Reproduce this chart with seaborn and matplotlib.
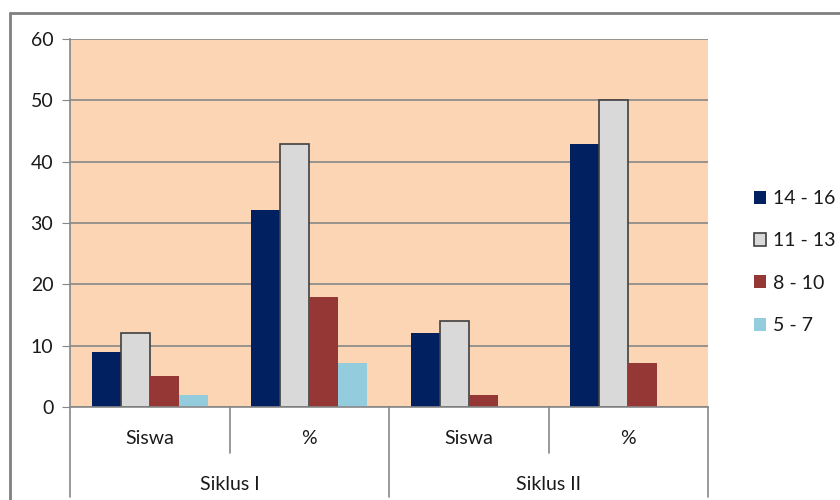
import pandas as pd
import matplotlib.pyplot as plt
import seaborn as sns
from matplotlib.lines import Line2D
from matplotlib.transforms import blended_transform_factory

# Data
cycles = ["Siklus I", "Siklus II"]
measures = ["Siswa", "%"]
series = ["14 - 16", "11 - 13", "8 - 10", "5 - 7"]
siklus1_siswa = [9, 12, 5, 2]
siklus1_pct = [32.1, 42.9, 17.9, 7.1]
siklus2_siswa = [12, 14, 2, 0]
siklus2_pct = [42.9, 50, 7.1, 0]

colors = ["#002060", "#D9D9D9", "#953735", "#93CDDD"]

rows = []
for cyc, vals_by_measure in zip(cycles, [[siklus1_siswa, siklus1_pct], [siklus2_siswa, siklus2_pct]]):
    for meas, vals in zip(measures, vals_by_measure):
        for s, v in zip(series, vals):
            rows.append({"cat": f"{cyc}|{meas}", "Kelompok": s, "Nilai": v})
df = pd.DataFrame(rows)
order = list(dict.fromkeys(df["cat"]))

sns.set_style("white")
plt.rcParams["font.family"] = ["Lato", "DejaVu Sans"]
fs = 14
txt_color = "#1a1a1a"

fig = plt.figure(figsize=(8.4, 5), dpi=100)
ax = fig.add_axes([70 / 840, 1 - 407 / 500, 638 / 840, 368 / 500])
ax.set_facecolor("#FCD5B5")

sns.barplot(
    data=df, x="cat", y="Nilai", hue="Kelompok", order=order, hue_order=series,
    palette=colors, width=0.73, gap=0, saturation=1, linewidth=0, ax=ax,
)
for bar in ax.containers[1]:
    bar.set_edgecolor("#404040")
    bar.set_linewidth(1.2)

ax.set_ylim(0, 60)
ax.set_yticks(range(0, 61, 10))
ax.set_xlim(-0.5, 3.5)
ax.yaxis.grid(True, color="#878787", linewidth=1.2)
ax.set_axisbelow(True)
ax.tick_params(axis="y", left=True, length=6, color="#878787", labelsize=fs,
               labelcolor=txt_color, pad=6)
ax.tick_params(axis="x", bottom=False, labelbottom=False)
ax.set_xlabel("")
ax.set_ylabel("")
for side in ["top", "right"]:
    ax.spines[side].set_visible(False)
for side in ["left", "bottom"]:
    ax.spines[side].set_color("#878787")
    ax.spines[side].set_linewidth(1.2)

# multi-level category axis
tr = blended_transform_factory(ax.transData, ax.transAxes)
axis_h = 368.0
for x in [0.5, 2.5]:
    ax.add_line(Line2D([x, x], [0, -46 / axis_h], transform=tr, color="#878787",
                       lw=1.2, clip_on=False))
for x in [-0.5, 1.5, 3.5]:
    ax.add_line(Line2D([x, x], [0, -90 / axis_h], transform=tr, color="#878787",
                       lw=1.2, clip_on=False))
for i, cat in enumerate(order):
    ax.text(i, -31 / axis_h, cat.split("|")[1], transform=tr, ha="center",
            va="center", fontsize=fs, color=txt_color)
for j, cyc in enumerate(cycles):
    ax.text(2 * j + 0.5, -77 / axis_h, cyc, transform=tr, ha="center",
            va="center", fontsize=fs, color=txt_color)

# legend
handles, labels = ax.get_legend_handles_labels()
leg = ax.legend(handles, labels, loc="center left", bbox_to_anchor=(744 / 840, 1 - 262 / 500),
                bbox_transform=fig.transFigure, frameon=False, fontsize=fs,
                handlelength=0.65, handleheight=0.65, handletextpad=0.35,
                labelspacing=1.3, borderpad=0)
for t in leg.get_texts():
    t.set_color(txt_color)
leg.legend_handles[1].set_edgecolor("#404040")
leg.legend_handles[1].set_linewidth(1.2)

# outer chart frame
fig.add_artist(Line2D([10 / 840, 10 / 840], [0, 1 - 13 / 500], color="#808080", lw=2,
                      transform=fig.transFigure))
fig.add_artist(Line2D([10 / 840, 1], [1 - 13 / 500, 1 - 13 / 500], color="#808080", lw=2,
                      transform=fig.transFigure))

fig.savefig("out.png", dpi=100)
